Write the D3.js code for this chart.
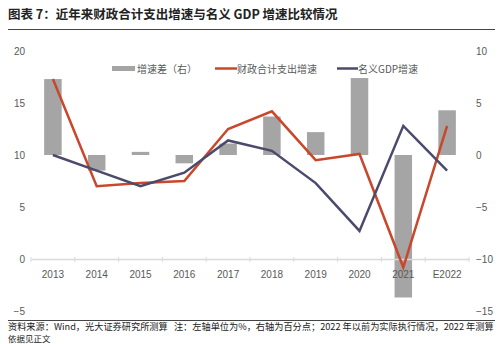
<!DOCTYPE html>
<html><head><meta charset="utf-8">
<script src="https://cdn.jsdelivr.net/npm/d3@7"></script>
<style>
html,body{margin:0;padding:0;background:#fff;}
svg{display:block;font-family:"Noto Sans CJK SC","Noto Sans",sans-serif;}
</style></head>
<body><svg id="c" width="500" height="344"></svg>
<script>
const categories = ["2013","2014","2015","2016","2017","2018","2019","2020","2021","E2022"];
const fiscalGrowth = [17.3, 7.0, 7.3, 7.5, 12.5, 14.2, 9.5, 10.1, -0.8, 12.8];
const gdpGrowth    = [10.0, 8.5, 7.0, 8.3, 11.4, 10.4, 7.3, 2.7, 12.8, 8.5];
const growthGap    = [7.3, -1.5, 0.3, -0.8, 1.1, 3.7, 2.2, 7.4, -13.7, 4.3];
const leftTicks  = [-5, 0, 5, 10, 15, 20];
const rightTicks = [-15, -10, -5, 0, 5, 10];
const seriesNames = ["增速差（右）", "财政合计支出增速", "名义GDP增速"];
const titleText = "图表 7：近年来财政合计支出增速与名义 GDP 增速比较情况";
const noteText = "资料来源：Wind，光大证券研究所测算   注：左轴单位为%，右轴为百分点；2022 年以前为实际执行情况，2022 年测算";
const noteText2 = "依据见正文";

const svg = d3.select("#c");
const C = {bar:"#a5a5a5", red:"#c9472b", blue:"#4b4a6c", text:"#595959", axis:"#d9d9d9"};

const x = d3.scaleBand().domain(categories).range([31, 469]).padding(0);
const yL = d3.scaleLinear().domain([-5, 20]).range([311, 51]);
const yR = d3.scaleLinear().domain([-15, 10]).range([311, 51]);

// title
svg.append("text").attr("x", 8).attr("y", 19).text(titleText)
  .attr("font-size", 12.5).attr("font-weight", "bold").attr("fill", "#222");
svg.append("line").attr("x1", 8).attr("x2", 495).attr("y1", 29.5).attr("y2", 29.5)
  .attr("stroke", "#444").attr("stroke-width", 1.2);

// bars
const bw = x.bandwidth() * 0.4;
svg.append("g").selectAll("rect").data(categories).join("rect")
  .attr("x", d => x(d) + (x.bandwidth() - bw) / 2)
  .attr("width", bw)
  .attr("y", (d, i) => Math.min(yR(growthGap[i]), yR(0)))
  .attr("height", (d, i) => Math.abs(yR(growthGap[i]) - yR(0)))
  .attr("fill", C.bar);

// x axis at left 0
const xAxis = d3.axisBottom(x).tickSize(0).tickPadding(0);
const gx = svg.append("g").attr("transform", `translate(0,${yL(0)})`).call(xAxis);
gx.select(".domain").attr("stroke", C.axis).attr("stroke-width", 1.5);
gx.selectAll("text").attr("font-size", 10).attr("fill", C.text)
  .attr("font-family", "'Liberation Sans',Arial,sans-serif").attr("dy", "1.05em").attr("y", 8);
// boundary tick marks
gx.selectAll(".bt").data(categories.concat(["end"])).join("line").attr("class", "bt")
  .attr("x1", (d, i) => x.range()[0] + i * x.step())
  .attr("x2", (d, i) => x.range()[0] + i * x.step())
  .attr("y1", -2).attr("y2", 3).attr("stroke", C.axis).attr("stroke-width", 1);

// left axis
const gl = svg.append("g").attr("transform", "translate(25,0)")
  .call(d3.axisLeft(yL).tickValues(leftTicks).tickSize(0).tickPadding(0));
gl.select(".domain").remove();
gl.selectAll("text").attr("font-size", 10).attr("fill", C.text)
  .attr("font-family", "'Liberation Sans',Arial,sans-serif");

// right axis
const gr = svg.append("g").attr("transform", "translate(476,0)")
  .call(d3.axisRight(yR).tickValues(rightTicks).tickSize(0).tickPadding(0));
gr.select(".domain").remove();
gr.selectAll("text").attr("font-size", 10).attr("fill", C.text)
  .attr("font-family", "'Liberation Sans',Arial,sans-serif");

// lines
const cx = d => x(d) + x.bandwidth() / 2;
const line = arr => d3.line().x((d) => cx(d)).y((d, i) => yL(arr[i]));
svg.append("path").datum(categories).attr("d", line(fiscalGrowth))
  .attr("fill", "none").attr("stroke", C.red).attr("stroke-width", 2.5);
svg.append("path").datum(categories).attr("d", line(gdpGrowth))
  .attr("fill", "none").attr("stroke", C.blue).attr("stroke-width", 2.5);

// legend
const lg = svg.append("g").attr("font-size", 10).attr("fill", C.text);
lg.append("rect").attr("x", 112).attr("y", 66).attr("width", 23).attr("height", 5).attr("fill", C.bar);
lg.append("text").attr("x", 137).attr("y", 72.5).text(seriesNames[0]).attr("fill", C.text);
lg.append("line").attr("x1", 215).attr("x2", 237).attr("y1", 68.5).attr("y2", 68.5).attr("stroke", C.red).attr("stroke-width", 2.5);
lg.append("text").attr("x", 237).attr("y", 72.5).text(seriesNames[1]).attr("fill", C.text);
lg.append("line").attr("x1", 337).attr("x2", 358).attr("y1", 68.5).attr("y2", 68.5).attr("stroke", C.blue).attr("stroke-width", 2.5);
lg.append("text").attr("x", 358).attr("y", 72.5).text(seriesNames[2]).attr("fill", C.text);

// footer
svg.append("line").attr("x1", 8).attr("x2", 495).attr("y1", 320.5).attr("y2", 320.5)
  .attr("stroke", "#444").attr("stroke-width", 1);
svg.append("text").attr("x", 8).attr("y", 330).text(noteText)
  .attr("font-size", 9.2).attr("fill", "#222").attr("xml:space", "preserve").style("white-space", "pre");
svg.append("text").attr("x", 8).attr("y", 341.5).text(noteText2)
  .attr("font-size", 8.5).attr("fill", "#222");
</script></body></html>
